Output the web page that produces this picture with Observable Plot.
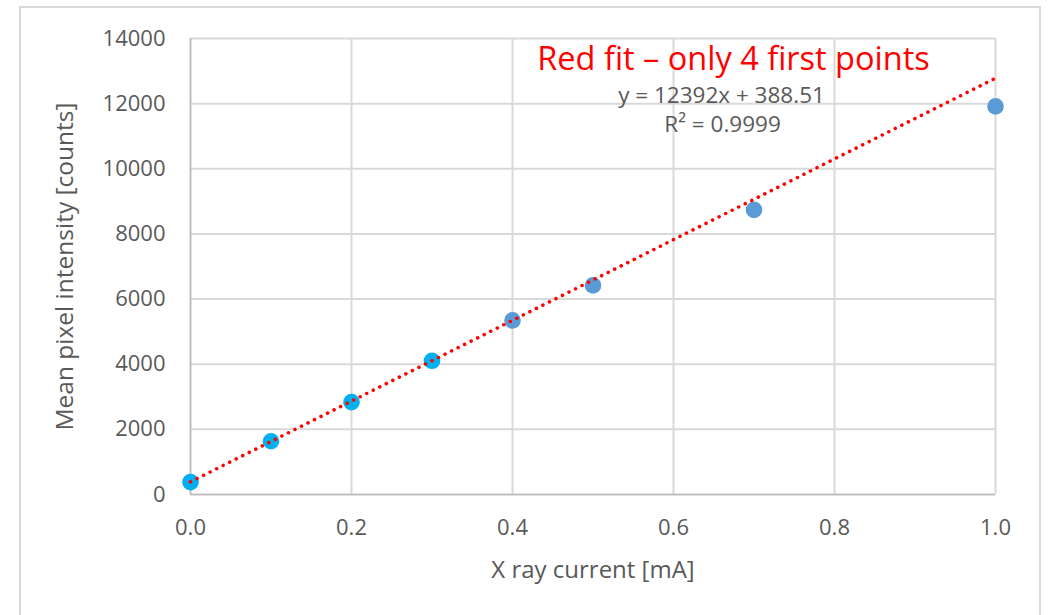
<!DOCTYPE html>
<html>
<head>
<meta charset="utf-8">
<script src="https://cdn.jsdelivr.net/npm/d3@7"></script>
<script src="https://cdn.jsdelivr.net/npm/@observablehq/plot@0.6"></script>
<style>
  html, body { margin: 0; padding: 0; background: #ffffff; }
  #chart { width: 1048px; height: 615px; overflow: hidden; }
</style>
</head>
<body>
<div id="chart"></div>
<script>
// X-ray current [mA]
const current = [0.0, 0.1, 0.2, 0.3, 0.4, 0.5, 0.7, 1.0];
// Mean pixel intensity [counts]
const intensity = [380, 1635, 2835, 4105, 5345, 6420, 8740, 11915];
// Which points were used for the red fit (first four)
const pointGroup = ["fit", "fit", "fit", "fit", "rest", "rest", "rest", "rest"];
// Linear fit coefficients shown on the chart
const fitSlope = [12392];
const fitIntercept = [388.51];
const fitRange = [0.0, 1.0];
// Tick values
const xTicks = [0.0, 0.2, 0.4, 0.6, 0.8, 1.0];
const yTicks = [0, 2000, 4000, 6000, 8000, 10000, 12000, 14000];
// Texts
const xLabel = "X ray current [mA]";
const yLabel = "Mean pixel intensity [counts]";
const fitNote = "Red fit \u2013 only 4 first points";
const equationText = "y = 12392x + 388.51";
const r2Text = "R\u00B2 = 0.9999";

const points = current.map((x, i) => ({x, y: intensity[i], group: pointGroup[i]}));
const fitLine = fitRange.map(x => ({x, y: fitSlope[0] * x + fitIntercept[0]}));

const chart = Plot.plot({
  width: 1048,
  height: 615,
  marginLeft: 190,
  marginRight: 53,
  marginTop: 38,
  marginBottom: 121,
  style: {fontFamily: "'Open Sans', sans-serif", fontSize: "22px", color: "#595959", background: "#ffffff"},
  x: {domain: [0, 1]},
  y: {domain: [0, 14000]},
  color: {domain: ["fit", "rest"], range: ["#00B0F0", "#5B9BD5"]},
  marks: [
    Plot.gridX(xTicks.slice(1), {stroke: "#d9d9d9", strokeOpacity: 1, strokeWidth: 2}),
    Plot.gridY(yTicks.slice(1), {stroke: "#d9d9d9", strokeOpacity: 1, strokeWidth: 2}),
    Plot.ruleX([0], {stroke: "#bfbfbf", strokeWidth: 2}),
    Plot.ruleY([0], {stroke: "#bfbfbf", strokeWidth: 2}),
    Plot.axisX(xTicks, {tickSize: 0, tickPadding: 25, tickFormat: d3.format(".1f"), label: null, fontSize: 22, fill: "#595959"}),
    Plot.axisY(yTicks, {tickSize: 0, tickPadding: 25, tickFormat: d3.format("d"), label: null, fontSize: 22, fill: "#595959"}),
    Plot.text([xLabel], {frameAnchor: "bottom", dy: 83, fontSize: 24, fill: "#595959", textAnchor: "middle"}),
    Plot.text([yLabel], {frameAnchor: "left", dx: -125, rotate: -90, fontSize: 24.5, fill: "#595959", textAnchor: "middle"}),
    Plot.dot(points, {x: "x", y: "y", fill: "group", r: 8.3, stroke: "none"}),
    Plot.line(fitLine, {x: "x", y: "y", stroke: "#ff0000", strokeWidth: 3.5, strokeDasharray: "0.1,7.2", strokeLinecap: "round"}),
    Plot.text([fitNote], {frameAnchor: "top-left", dx: 543, dy: 8, fontSize: 32.5, fill: "#ff0000", textAnchor: "middle"}),
    Plot.text([equationText], {frameAnchor: "top-left", dx: 531, dy: 48.5, fontSize: 22.5, fill: "#595959", textAnchor: "middle"}),
    Plot.text([r2Text], {frameAnchor: "top-left", dx: 532, dy: 77.5, fontSize: 22.5, fill: "#595959", textAnchor: "middle"})
  ]
});

d3.select(chart).insert("rect", ":first-child")
  .attr("x", 20).attr("y", 7).attr("width", 1020).attr("height", 640)
  .attr("fill", "none").attr("stroke", "#d9d9d9").attr("stroke-width", 2);

document.getElementById("chart").appendChild(chart);
</script>
</body>
</html>
